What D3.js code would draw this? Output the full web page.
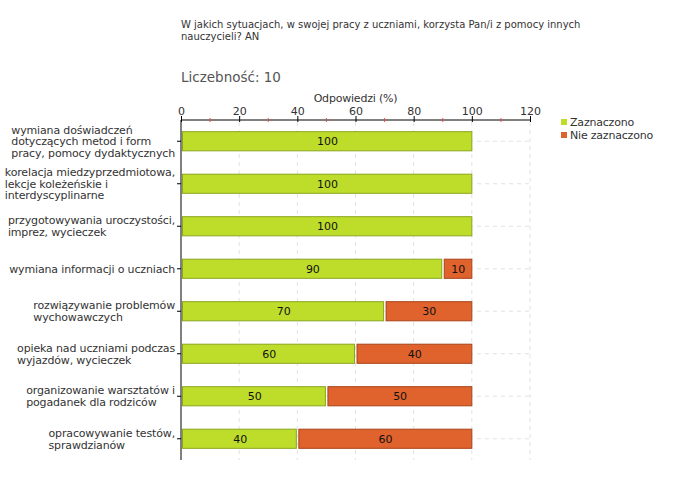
<!DOCTYPE html>
<html><head><meta charset="utf-8">
<script src="https://cdn.jsdelivr.net/npm/d3@7"></script>
<style>body{margin:0;background:#fff}svg{display:block}text{font-family:"DejaVu Sans",Verdana,sans-serif}</style>
</head><body><svg id="c" width="680" height="480"></svg>
<script>
const categories = [
  ["wymiana doświadczeń","dotyczących metod i form","pracy, pomocy dydaktycznych"],
  ["korelacja miedzyprzedmiotowa,","lekcje koleżeńskie i","interdyscyplinarne"],
  ["przygotowywania uroczystości,","imprez, wycieczek"],
  ["wymiana informacji o uczniach"],
  ["rozwiązywanie problemów","wychowawczych"],
  ["opieka nad uczniami podczas","wyjazdów, wycieczek"],
  ["organizowanie warsztatów i","pogadanek dla rodziców"],
  ["opracowywanie testów,","sprawdzianów"]
];
const zaznaczono = [100,100,100,90,70,60,50,40];
const nieZaznaczono = [0,0,0,10,30,40,50,60];
const seriesNames = ["Zaznaczono","Nie zaznaczono"];
const xTicks = [0,20,40,60,80,100,120];
const minorTicks = [10,30,50,70,90,110];
const titleLines = ["W jakich sytuacjach, w swojej pracy z uczniami, korzysta Pan/i z pomocy innych","nauczycieli? AN"];
const countLabel = "Liczebność: 10";
const axisTitle = "Odpowiedzi (%)";

const svg = d3.select("#c");
const x = d3.scaleLinear().domain([0,120]).range([181,530]);
const y = d3.scaleBand().domain(d3.range(categories.length)).range([120,460]).paddingInner(0.55).paddingOuter(0.275);
const green="#bedd2b", greenS="#8aa61c", orange="#e0622c", orangeS="#a8441a";
const txt="#333";

// title
svg.append("text").attr("x",181).attr("y",28).attr("font-size",10).attr("fill",txt)
  .selectAll("tspan").data(titleLines).join("tspan").attr("x",181).attr("dy",(d,i)=>i?12:0).text(d=>d);
svg.append("text").attr("x",181).attr("y",82).attr("font-size",13.5).attr("fill","#555").text(countLabel);
svg.append("text").attr("x",x(60)).attr("y",102).attr("text-anchor","middle").attr("font-size",11).attr("letter-spacing",-0.2).attr("fill",txt).text(axisTitle);

// grid
const g = svg.append("g");
g.selectAll(".vg").data(xTicks.slice(1)).join("line")
  .attr("x1",d=>x(d)).attr("x2",d=>x(d)).attr("y1",122).attr("y2",460)
  .attr("stroke","#e2e2e2").attr("stroke-dasharray","4,4");
g.selectAll(".hg").data(d3.range(categories.length)).join("line")
  .attr("x1",181).attr("x2",530).attr("y1",i=>y(i)+y.bandwidth()/2).attr("y2",i=>y(i)+y.bandwidth()/2)
  .attr("stroke","#e2e2e2").attr("stroke-dasharray","4,4");

// x axis top
const xa = svg.append("g").attr("transform","translate(0,120)")
  .call(d3.axisTop(x).tickValues(xTicks).tickSize(4).tickPadding(1));
xa.select(".domain").attr("stroke","#000").attr("d","M181,0H530");
xa.selectAll("text").attr("font-size",11).attr("fill",txt).attr("font-family","DejaVu Sans");
xa.selectAll(".tick line").attr("stroke","#000").attr("y2",-4).attr("y1",2);
svg.append("g").selectAll("line").data(minorTicks).join("line")
  .attr("x1",d=>x(d)).attr("x2",d=>x(d)).attr("y1",118).attr("y2",122).attr("stroke","#e05050");

// y axis
const ya = svg.append("g").attr("transform","translate(181,0)")
  .call(d3.axisLeft(y).tickSize(4).tickFormat(""));
ya.select(".domain").attr("stroke","#000").attr("d","M0,120V460");
ya.selectAll(".tick line").attr("stroke","#000");

// category labels (lines left aligned, block right aligned)
const lab = svg.append("g").selectAll("text").data(categories).join("text")
  .attr("font-size",11).attr("letter-spacing",-0.15).attr("fill",txt);
lab.selectAll("tspan").data(d=>d).join("tspan").attr("dy",(d,i)=>i?11.7:0).text(d=>d);
lab.each(function(d,i){
  const t=d3.select(this);
  const w=d3.max(t.selectAll("tspan").nodes(),n=>n.getComputedTextLength());
  const x0=175-w;
  t.attr("y",y(i)+y.bandwidth()/2-(d.length-1)*5.85+4);
  t.selectAll("tspan").attr("x",x0);
});

// bars
const rows = svg.append("g").selectAll("g").data(d3.range(categories.length)).join("g");
rows.append("rect").attr("x",x(0)+1.5).attr("y",i=>y(i)).attr("height",y.bandwidth())
  .attr("width",i=>x(zaznaczono[i])-x(0)-(nieZaznaczono[i]>0?2.5:1.5))
  .attr("fill",green).attr("stroke",greenS);
rows.filter(i=>nieZaznaczono[i]>0).append("rect")
  .attr("x",i=>x(zaznaczono[i])+1.5).attr("y",i=>y(i)).attr("height",y.bandwidth())
  .attr("width",i=>x(zaznaczono[i]+nieZaznaczono[i])-x(zaznaczono[i])-1.5)
  .attr("fill",orange).attr("stroke",orangeS);
rows.append("text").attr("x",i=>(x(0)+2+x(zaznaczono[i]))/2).attr("y",i=>y(i)+y.bandwidth()/2+4)
  .attr("text-anchor","middle").attr("font-size",11).attr("fill","#111").text(i=>zaznaczono[i]);
rows.filter(i=>nieZaznaczono[i]>0).append("text")
  .attr("x",i=>(x(zaznaczono[i])+x(zaznaczono[i]+nieZaznaczono[i]))/2+1).attr("y",i=>y(i)+y.bandwidth()/2+4)
  .attr("text-anchor","middle").attr("font-size",11).attr("fill","#111").text(i=>nieZaznaczono[i]);

// legend
const leg = svg.append("g").selectAll("g").data(seriesNames).join("g")
  .attr("transform",(d,i)=>`translate(561,${119+i*13})`);
leg.append("rect").attr("width",6).attr("height",6).attr("fill",(d,i)=>i?orange:green);
leg.append("text").attr("x",9).attr("y",7).attr("font-size",11).attr("letter-spacing",-0.2).attr("fill",txt).text(d=>d);
</script></body></html>
